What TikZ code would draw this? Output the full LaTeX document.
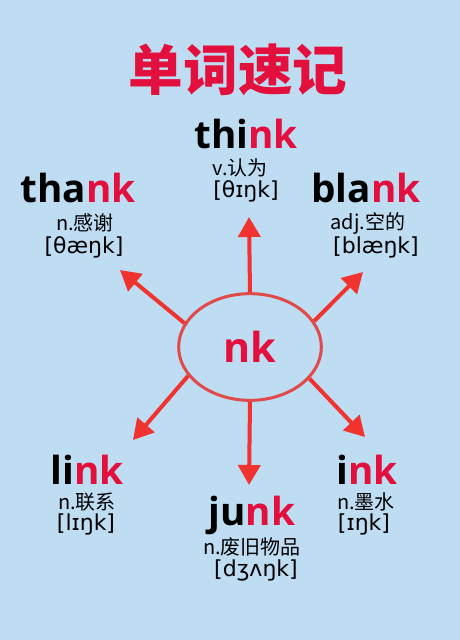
\documentclass[tikz,border=0pt]{standalone}
\usepackage{fontspec}
\setmainfont{Open Sans}
\newfontfamily\ipafont{DejaVu Sans}
\newfontfamily\cjk{Noto Sans CJK SC}
\usetikzlibrary{arrows.meta,shapes.geometric}
\definecolor{bgblue}{HTML}{BEDCF2}
\definecolor{arrred}{HTML}{F0332E}
\definecolor{ringred}{HTML}{E04A48}
\definecolor{wordred}{HTML}{E3103D}
\newcommand\redpart[1]{\textcolor{wordred}{#1}}

\begin{document}
\begin{tikzpicture}[x=0.75pt,y=0.75pt,yscale=-1,xscale=1,
  word/.style={anchor=base,inner sep=0pt,font=\fontsize{29}{31}\selectfont\bfseries},
  gloss/.style={inner sep=0pt,font=\cjk\fontsize{15}{16}\selectfont},
  ipa/.style={inner sep=0pt,font=\ipafont\fontsize{16.5}{18}\selectfont},
  spoke/.style={draw=arrred,line width=3pt,-{Triangle[length=15pt,width=16.5pt]}}]
%Background
\fill[bgblue] (0,0) rectangle (460,640);
\useasboundingbox (0,0) rectangle (460,640);

% Title
\node[inner sep=0.75pt,text=wordred,font=\cjk\bfseries\fontsize{41}{44}\selectfont] (title) at (238,70) {单词速记};

%Shape: Ellipse
\node[ellipse,draw=ringred,line width=2.25pt,minimum width=107pt,minimum height=80pt,inner sep=0pt,text=wordred,font=\fontsize{31}{33}\selectfont\bfseries] (nk) at (250,347) {nk};

% Arrow tips
\coordinate (thinktip) at (249,217);
\coordinate (thanktip) at (120,270);
\coordinate (blanktip) at (363,272);
\coordinate (linktip) at (133,440);
\coordinate (junktip) at (249,485);
\coordinate (inktip) at (365,437);

\draw[spoke] (nk.north) -- (thinktip);
\draw[spoke] (nk.160) -- (thanktip);
\draw[spoke] (nk.22) -- (blanktip);
\draw[spoke] (nk.205) -- (linktip);
\draw[spoke] (nk.south) -- (junktip);
\draw[spoke] (nk.332) -- (inktip);

% Text Node think
\node[word] (think) at (246,148) {thi\redpart{nk}};
\node[gloss] (thinkgloss) at (240,168) {v.认为};
\node[ipa] (thinkipa) at (246,191) {[θɪŋk]};
% Text Node thank
\node[word] (thank) at (78,202) {tha\redpart{nk}};
\node[gloss] (thankgloss) at (85,223) {n.感谢};
\node[ipa] (thankipa) at (84,247) {[θæŋk]};
% Text Node blank
\node[word] (blank) at (366,202) {bla\redpart{nk}};
\node[gloss] (blankgloss) at (368,223) {adj.空的};
\node[ipa] (blankipa) at (376,247) {[blæŋk]};
% Text Node link
\node[word] (link) at (87,484) {li\redpart{nk}};
\node[gloss] (linkgloss) at (87,502) {n.联系};
\node[ipa] (linkipa) at (86,524) {[lɪŋk]};
% Text Node junk
\node[word] (junk) at (252,525) {ju\redpart{nk}};
\node[gloss] (junkgloss) at (252,547) {n.废旧物品};
\node[ipa] (junkipa) at (256,570) {[dʒʌŋk]};
% Text Node ink
\node[word] (ink) at (367,484) {i\redpart{nk}};
\node[gloss] (inkgloss) at (366,502) {n.墨水};
\node[ipa] (inkipa) at (364,524) {[ɪŋk]};

\end{tikzpicture}
\end{document}
